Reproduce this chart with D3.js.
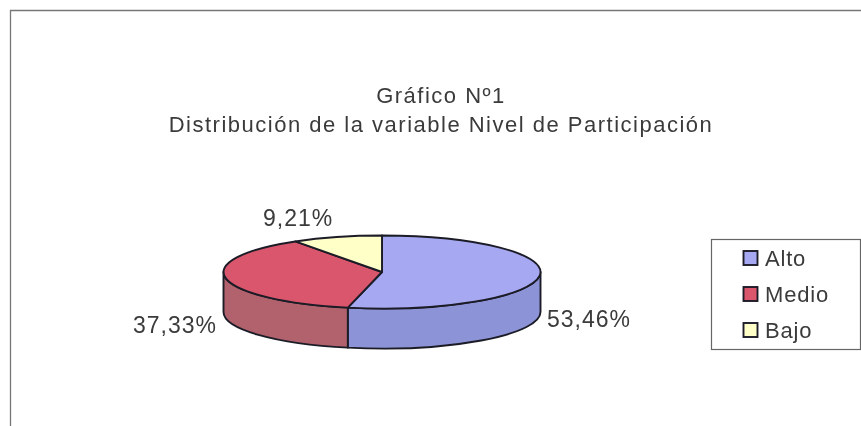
<!DOCTYPE html>
<html><head><meta charset="utf-8">
<script src="https://cdn.jsdelivr.net/npm/d3@7"></script>
<style>html,body{margin:0;padding:0;background:#fff}svg{display:block}text{font-family:"Liberation Sans",Arial,sans-serif;fill:#3a3a3a}</style>
</head><body><svg id="c" width="861" height="426"></svg>
<script>
const categories = ["Alto", "Medio", "Bajo"];
const values = [53.46, 37.33, 9.21];
const valueLabels = ["53,46%", "37,33%", "9,21%"];
const topColors = ["#a7a8f2", "#d9566c", "#ffffc8"];
const sideColors = ["#8c93d6", "#b2626c", "#d8d8a8"];
const titleLines = ["Gráfico Nº1", "Distribución de la variable Nivel de Participación"];

const svg = d3.select("#c");
const defs = svg.append("defs");
defs.append("filter").attr("id","soft").attr("x","-5%").attr("y","-5%").attr("width","110%").attr("height","110%")
  .append("feGaussianBlur").attr("stdDeviation",0.5);
const root = svg.append("g").attr("filter","url(#soft)");

root.append("path").attr("d","M10.5,426V10.5H861").attr("fill","none").attr("stroke","#777").attr("stroke-width",1.3);

root.selectAll("text.title").data(titleLines).join("text").attr("class","title")
  .attr("x",441).attr("y",(d,i)=>103+i*29).attr("text-anchor","middle")
  .attr("font-size",22).attr("letter-spacing",1.5).text(d=>d);

const cx=382, cy=272, rx=158.5, ry=36.5, depth=40;
const arcs = d3.pie().sort(null).value(d=>d)(values);
const px = d3.scaleLinear().domain([-1,1]).range([cx-rx,cx+rx]);
const py = d3.scaleLinear().domain([-1,1]).range([cy-ry,cy+ry]);
const P = a => [px(Math.sin(a)), py(-Math.cos(a))];
const stroke="#1c1c28", sw=1.9;

const lo=Math.PI/2, hi=3*Math.PI/2;
arcs.forEach((s,i)=>{
  const a0=Math.max(s.startAngle,lo), a1=Math.min(s.endAngle,hi);
  if(a1<=a0) return;
  const [x0,y0]=P(a0), [x1,y1]=P(a1);
  root.append("path")
    .attr("d",`M${x0},${y0}A${rx},${ry} 0 0 1 ${x1},${y1}L${x1},${y1+depth}A${rx},${ry} 0 0 0 ${x0},${y0+depth}Z`)
    .attr("fill",sideColors[i]).attr("stroke",stroke).attr("stroke-width",sw).attr("stroke-linejoin","round");
});

const arc=d3.arc().innerRadius(0).outerRadius(rx);
root.append("g").attr("transform",`translate(${cx},${cy}) scale(1,${ry/rx})`)
  .selectAll("path").data(arcs).join("path").attr("d",arc)
  .attr("fill",(d,i)=>topColors[i]).attr("stroke",stroke).attr("stroke-width",sw)
  .attr("vector-effect","non-scaling-stroke").attr("stroke-linejoin","round");

const labelPos=[[547,327],[133,333],[263,226]];
root.selectAll("text.lab").data(valueLabels).join("text").attr("class","lab")
  .attr("x",(d,i)=>labelPos[i][0]).attr("y",(d,i)=>labelPos[i][1])
  .attr("font-size",23).attr("letter-spacing",1).text(d=>d);

root.append("rect").attr("x",711.5).attr("y",239.5).attr("width",149).attr("height",110)
  .attr("fill","#fff").attr("stroke","#666").attr("stroke-width",1.2);
const ly=d3.scalePoint().domain(categories).range([258,330]);
const items=root.selectAll("g.leg").data(categories).join("g").attr("class","leg")
  .attr("transform",d=>`translate(0,${ly(d)})`);
items.append("rect").attr("x",743.5).attr("y",-7).attr("width",14).attr("height",14)
  .attr("fill",(d,i)=>topColors[i]).attr("stroke",stroke).attr("stroke-width",1.9);
items.append("text").attr("x",765).attr("y",8).attr("font-size",22).attr("letter-spacing",0.8).text(d=>d);
</script></body></html>
